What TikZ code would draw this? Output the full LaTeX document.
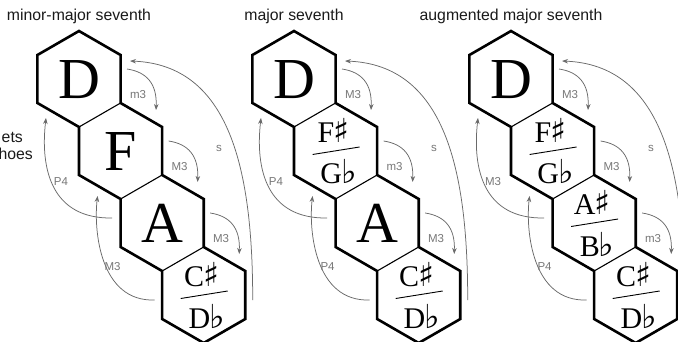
\documentclass[tikz,border=0pt]{standalone}
\usepackage{fontspec}
\usetikzlibrary{calc,arrows.meta}
\newfontfamily\sansf{Liberation Sans}
\newfontfamily\seriff{Liberation Serif}
\newfontfamily\symf{DejaVu Sans}
\definecolor{arrgray}{HTML}{6A6A6A}
\definecolor{labgray}{HTML}{777777}
\definecolor{titlecol}{HTML}{1A1A1A}
\newcommand{\mysharp}{{\symf\fontsize{33}{33}\selectfont\kern-1pt ♯}}
\newcommand{\myflat}{{\symf\fontsize{33}{33}\selectfont\kern-1pt ♭}}
\tikzset{
  outline/.style={line width=2.6pt, line join=miter},
  innerline/.style={line width=1.1pt},
  iv/.style={draw=arrgray, line width=0.75pt, -{Stealth[length=6pt,width=4.5pt]}},
  lab/.style={text=labgray, font=\sansf\fontsize{11.5}{12}\selectfont, inner sep=0pt},
  bigletter/.style={font=\seriff\fontsize{58}{58}\selectfont, inner sep=0pt, anchor=base},
  midletter/.style={font=\seriff\fontsize{30}{30}\selectfont, inner sep=0pt, anchor=base},
  titletext/.style={font=\sansf\fontsize{15.8}{18}\selectfont, text=titlecol, inner sep=0pt, anchor=base},
  fracline/.style={line width=0.9pt}
}
% hexagon chain: #1 x offset, #2 prefix
\newcommand{\hexgroup}[2]{%
  \coordinate (#2a) at ({#1+79},79);
  \coordinate (#2b) at ({#1+120.57},151);
  \coordinate (#2c) at ({#1+162.14},223);
  \coordinate (#2d) at ({#1+203.71},295);
  \begin{scope}[shift={(#1,0)}]
    \draw[outline] (79,31) -- (120.57,55) -- (120.57,103) -- (162.14,127) -- (162.14,175)
      -- (203.71,199) -- (203.71,247) -- (245.28,271) -- (245.28,319) -- (203.71,343)
      -- (162.14,319) -- (162.14,271) -- (120.57,247) -- (120.57,199) -- (79,175)
      -- (79,127) -- (37.43,103) -- (37.43,55) -- cycle;
    \draw[innerline] (79,127) -- (120.57,103) (120.57,199) -- (162.14,175) (162.14,271) -- (203.71,247);
  \end{scope}}
% single letter: #1 centre, #2 name, #3 text
\newcommand{\single}[3]{\node[bigletter] (#2) at ($(#1)+(0,20)$) {#3};}
% enharmonic pair: #1 centre, #2 name, #3 upper, #4 lower
\newcommand{\enh}[4]{%
  \node[midletter] (#2u) at ($(#1)+(-2,-8.5)$) {#3};
  \node[midletter] (#2l) at ($(#1)+(3,33)$) {#4};
  \draw[fracline] ($(#1)+(-23,3.5)$) -- ($(#1)+(24,-4)$);}
% right arrow: #1 from centre, #2 to centre, #3 label, #4 label name
\newcommand{\rarr}[4]{%
  \draw[iv] ($(#1)+(48,-10)$) .. controls +(20,3) and +(1,-26) .. ($(#2)+(35.5,-41)$);
  \node[lab] (#4) at ($(#1)+(59,15.5)$) {#3};}
% left arrows, s arc: #1 prefix, #2 upper label, #3 lower label
\newcommand{\leftarrs}[3]{%
  \draw[iv] ($(#1c)+(-50,-5)$) .. controls +(-60,1) and +(-6,52) .. ($(#1a)+(-33,39)$);
  \node[lab] (#1lu) at ($(#1a)+(-18,103)$) {#2};
  \draw[iv] ($(#1d)+(-49,5)$) .. controls +(-55,2) and +(-4,34) .. ($(#1b)+(-23,45)$);
  \node[lab] (#1ll) at ($(#1b)+(-8,116)$) {#3};
  \draw[iv] ($(#1d)+(49,5)$) .. controls +(0,-130) and +(100,4) .. ($(#1a)+(51,-18)$);
  \node[lab] (#1ls) at ($(#1a)+(140,69)$) {s};}
\begin{document}
\begin{tikzpicture}[x=1pt,y=-1pt]
\useasboundingbox (0,0) rectangle (678,342);
\fill[white] (0,0) rectangle (678,342);

% cut-off text at far left
\node[titletext, anchor=base east] (lt1) at (23,143) {ets};
\node[titletext, anchor=base east] (lt2) at (33,159.5) {hoes};

% titles
\node[titletext] (t1) at (79,20.5) {minor-major seventh};
\node[titletext] (t2) at (294,20.5) {major seventh};
\node[titletext] (t3) at (511,20.5) {augmented major seventh};

% group 1
\hexgroup{0}{g1}
\single{g1a}{g1A}{D}
\single{g1b}{g1B}{F}
\single{g1c}{g1C}{A}
\enh{g1d}{g1D}{C\mysharp}{D\myflat}
\rarr{g1a}{g1b}{m3}{g1r1}
\rarr{g1b}{g1c}{M3}{g1r2}
\rarr{g1c}{g1d}{M3}{g1r3}
\leftarrs{g1}{P4}{M3}

% group 2
\hexgroup{215}{g2}
\single{g2a}{g2A}{D}
\enh{g2b}{g2B}{F\mysharp}{G\myflat}
\single{g2c}{g2C}{A}
\enh{g2d}{g2D}{C\mysharp}{D\myflat}
\rarr{g2a}{g2b}{M3}{g2r1}
\rarr{g2b}{g2c}{m3}{g2r2}
\rarr{g2c}{g2d}{M3}{g2r3}
\leftarrs{g2}{P4}{P4}

% group 3
\hexgroup{432}{g3}
\single{g3a}{g3A}{D}
\enh{g3b}{g3B}{F\mysharp}{G\myflat}
\enh{g3c}{g3C}{A\mysharp}{B\myflat}
\enh{g3d}{g3D}{C\mysharp}{D\myflat}
\rarr{g3a}{g3b}{M3}{g3r1}
\rarr{g3b}{g3c}{M3}{g3r2}
\rarr{g3c}{g3d}{m3}{g3r3}
\leftarrs{g3}{M3}{P4}
\end{tikzpicture}
\end{document}
